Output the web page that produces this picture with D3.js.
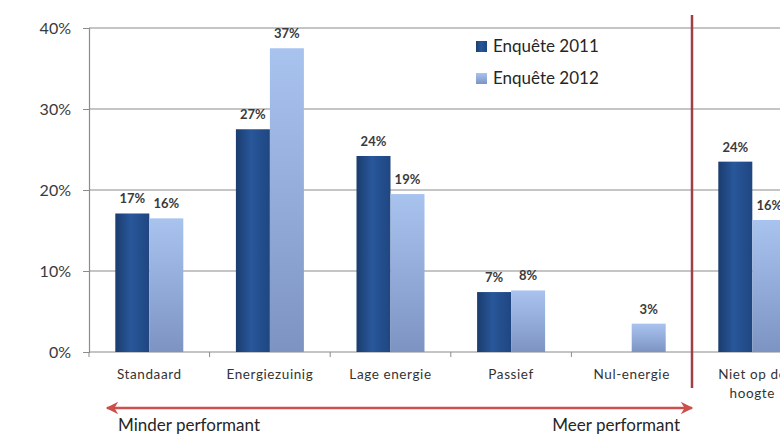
<!DOCTYPE html>
<html>
<head>
<meta charset="utf-8">
<script src="https://cdn.jsdelivr.net/npm/d3@7"></script>
<style>
  body { margin: 0; background: #fff; }
  svg { display: block; font-family: Lato, "Open Sans", sans-serif; }
</style>
</head>
<body>
<svg id="chart" width="780" height="435"></svg>
<script>
// categories and series
const categories = ['Standaard', 'Energiezuinig', 'Lage energie', 'Passief', 'Nul-energie', 'Niet op de hoogte'];
const series = ['Enquête 2011', 'Enquête 2012'];
const values2011 = [0.171, 0.275, 0.242, 0.074, null, 0.235];
const values2012 = [0.165, 0.375, 0.195, 0.076, 0.035, 0.163];
const labels2011 = ['17%', '27%', '24%', '7%', '', '24%'];
const labels2012 = ['16%', '37%', '19%', '8%', '3%', '16%'];
const yTicks = [0, 0.1, 0.2, 0.3, 0.4];
const arrowLabels = ['Minder performant', 'Meer performant'];

const svg = d3.select('#chart');
const plotLeft = 89, plotTop = 28, plotBottom = 352;
const catWidth = 120.6;

const x = d3.scaleBand()
  .domain(categories)
  .range([plotLeft, plotLeft + catWidth * categories.length]);

const barW = 34;
const x1 = d3.scaleBand()
  .domain(series)
  .range([(x.bandwidth() - barW * 2) / 2, (x.bandwidth() + barW * 2) / 2]);

const y = d3.scaleLinear().domain([0, 0.4]).range([plotBottom, plotTop]);

// gradients for the bar shading
const defs = svg.append('defs');
const g1 = defs.append('linearGradient').attr('id', 'dark').attr('x1', 0).attr('x2', 1).attr('y1', 0).attr('y2', 0);
g1.append('stop').attr('offset', '0%').attr('stop-color', '#1b3c6e');
g1.append('stop').attr('offset', '45%').attr('stop-color', '#28579a');
g1.append('stop').attr('offset', '100%').attr('stop-color', '#1f4681');
const g2 = defs.append('linearGradient').attr('id', 'light').attr('x1', 0).attr('x2', 0).attr('y1', 0).attr('y2', 1);
g2.append('stop').attr('offset', '0%').attr('stop-color', '#a9c3ef');
g2.append('stop').attr('offset', '100%').attr('stop-color', '#7d94c3');
const colors = ['url(#dark)', 'url(#light)'];

// arrow markers
['start', 'end'].forEach(k => {
  defs.append('marker')
    .attr('id', 'arr-' + k)
    .attr('viewBox', '0 0 10 10')
    .attr('refX', 9).attr('refY', 5)
    .attr('markerWidth', 6).attr('markerHeight', 5)
    .attr('orient', 'auto-start-reverse')
    .append('path')
    .attr('d', 'M0,0 L10,5 L0,10 L3,5 Z')
    .attr('fill', '#cc4f4c');
});

// gridlines
svg.append('g')
  .selectAll('line')
  .data(yTicks.filter(d => d > 0))
  .join('line')
  .attr('x1', plotLeft).attr('x2', 780)
  .attr('y1', d => y(d)).attr('y2', d => y(d))
  .attr('stroke', '#8c8c8c').attr('stroke-width', 1.2);

// y axis
const yAxis = svg.append('g')
  .attr('transform', `translate(${plotLeft},0)`)
  .call(d3.axisLeft(y).tickValues(yTicks).tickFormat(d3.format('.0%')).tickSize(6).tickPadding(12));
yAxis.select('.domain').attr('stroke', '#8c8c8c').attr('stroke-width', 1.2);
yAxis.selectAll('.tick line').attr('stroke', '#8c8c8c');
yAxis.selectAll('text')
  .attr('font-family', 'Lato, sans-serif')
  .attr('font-size', 16)
  .attr('fill', '#3a3a3a');

// x axis baseline + ticks at category boundaries
svg.append('line')
  .attr('x1', plotLeft).attr('x2', 780)
  .attr('y1', plotBottom).attr('y2', plotBottom)
  .attr('stroke', '#8c8c8c').attr('stroke-width', 1.2);
svg.append('g')
  .selectAll('line')
  .data(categories)
  .join('line')
  .attr('x1', d => x(d)).attr('x2', d => x(d))
  .attr('y1', plotBottom).attr('y2', plotBottom + 5)
  .attr('stroke', '#8c8c8c');

// bars
const rows = categories.map((c, i) => ({
  cat: c,
  items: [
    { s: series[0], v: values2011[i], label: labels2011[i] },
    { s: series[1], v: values2012[i], label: labels2012[i] }
  ]
}));

const groups = svg.append('g')
  .selectAll('g')
  .data(rows)
  .join('g')
  .attr('transform', d => `translate(${x(d.cat)},0)`);

groups.selectAll('rect')
  .data(d => d.items.filter(e => e.v != null))
  .join('rect')
  .attr('x', d => x1(d.s))
  .attr('y', d => y(d.v))
  .attr('width', x1.bandwidth())
  .attr('height', d => plotBottom - y(d.v))
  .attr('fill', d => colors[series.indexOf(d.s)]);

groups.selectAll('text')
  .data(d => d.items.filter(e => e.v != null))
  .join('text')
  .attr('x', d => x1(d.s) + x1.bandwidth() / 2)
  .attr('y', d => y(d.v) - 10)
  .attr('text-anchor', 'middle')
  .attr('font-size', 13)
  .attr('font-weight', 700)
  .attr('fill', '#3a3a3a')
  .text(d => d.label);

// category labels
svg.append('g')
  .selectAll('text')
  .data(categories)
  .join('text')
  .attr('x', d => x(d) + x.bandwidth() / 2)
  .attr('y', 379)
  .attr('text-anchor', 'middle')
  .attr('font-size', 13.5)
  .attr('letter-spacing', 0.6)
  .attr('fill', '#333')
  .each(function (d) {
    const t = d3.select(this);
    const parts = d === 'Niet op de hoogte' ? ['Niet op de', 'hoogte'] : [d];
    parts.forEach((p, i) => {
      t.append('tspan')
        .attr('x', x(d) + x.bandwidth() / 2)
        .attr('dy', i === 0 ? 0 : 19)
        .text(p);
    });
  });

// red separator line
const sep = x(categories[5]);
svg.append('line')
  .attr('x1', sep).attr('x2', sep)
  .attr('y1', 15).attr('y2', 388)
  .attr('stroke', '#9e4147').attr('stroke-width', 2.5);

// double arrow
svg.append('line')
  .attr('x1', 107).attr('x2', sep)
  .attr('y1', 408).attr('y2', 408)
  .attr('stroke', '#cc4f4c').attr('stroke-width', 2.5)
  .attr('marker-start', 'url(#arr-start)')
  .attr('marker-end', 'url(#arr-end)');

svg.append('text')
  .attr('x', 118).attr('y', 431)
  .attr('font-size', 17)
  .attr('fill', '#262626')
  .text(arrowLabels[0]);
svg.append('text')
  .attr('x', 680).attr('y', 431)
  .attr('text-anchor', 'end')
  .attr('font-size', 17)
  .attr('fill', '#262626')
  .text(arrowLabels[1]);

// legend
const legend = svg.append('g')
  .selectAll('g')
  .data(series)
  .join('g')
  .attr('transform', (d, i) => `translate(476,${41 + i * 32})`);
legend.append('rect')
  .attr('width', 11).attr('height', 11)
  .attr('fill', (d, i) => colors[i]);
legend.append('text')
  .attr('x', 17).attr('y', 11)
  .attr('font-size', 17)
  .attr('fill', '#262626')
  .text(d => d);
</script>
</body>
</html>
